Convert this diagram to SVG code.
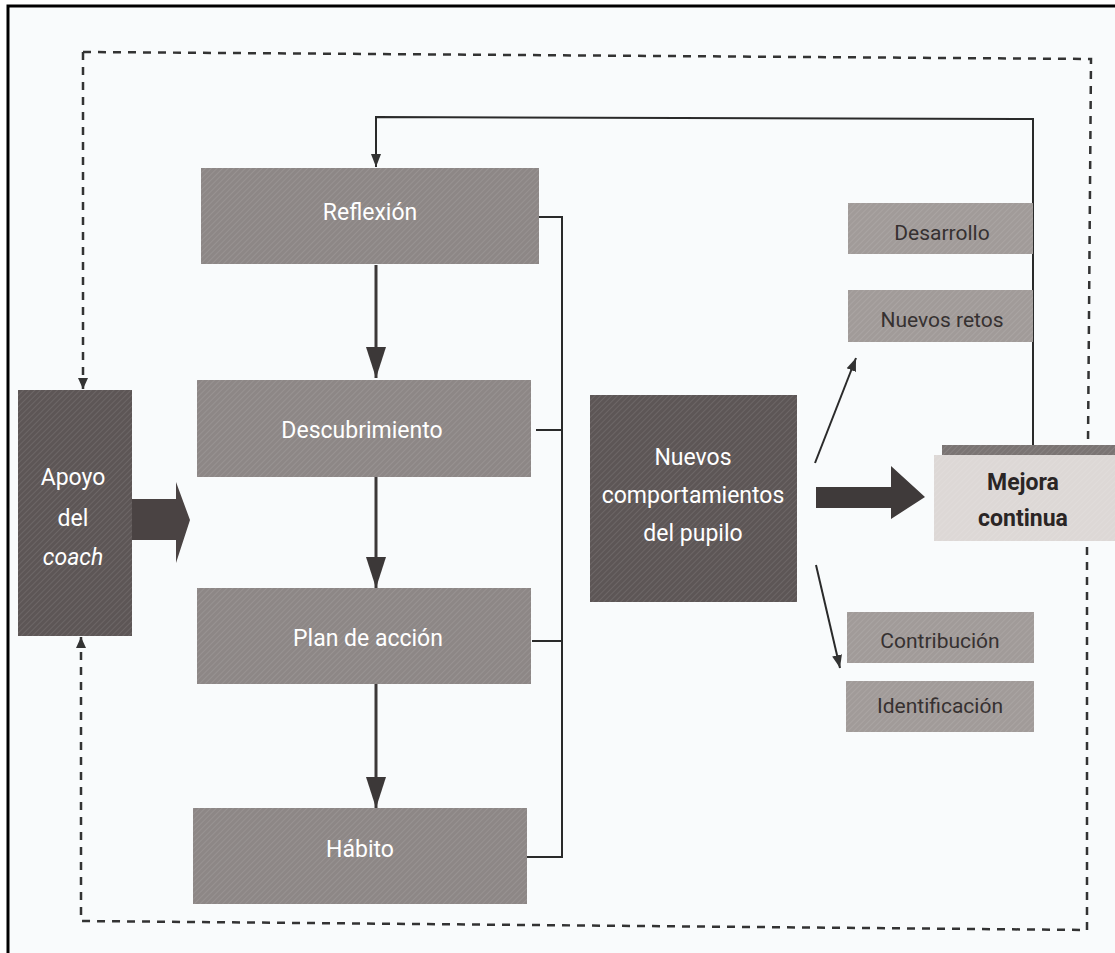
<svg xmlns="http://www.w3.org/2000/svg" width="1115" height="953" viewBox="0 0 1115 953">
<defs>
<pattern id="hatch" width="4" height="4" patternUnits="userSpaceOnUse" patternTransform="rotate(45)">
<rect width="4" height="4" fill="none"/>
<line x1="0" y1="0" x2="0" y2="4" stroke="#ffffff" stroke-opacity="0.12" stroke-width="1.5"/>
</pattern>
<marker id="thin" markerUnits="userSpaceOnUse" markerWidth="14" markerHeight="12" refX="13" refY="6" orient="auto">
<path d="M0,1 L13,6 L0,11 Z" fill="#333"/>
</marker>
<marker id="dash" markerUnits="userSpaceOnUse" markerWidth="12" markerHeight="12" refX="11" refY="6" orient="auto">
<path d="M0,1 L11,6 L0,11 Z" fill="#333"/>
</marker>
<marker id="big" markerUnits="userSpaceOnUse" markerWidth="32" markerHeight="22" refX="31" refY="11" orient="auto">
<path d="M0,1 L31,11 L0,21 Z" fill="#3c3838"/>
</marker>
</defs>
<style>
.mid{fill:#8d8786}
.dark{fill:#5d5656}
.small{fill:#a19b99}
.light{fill:#ddd8d6}
.tx{font-family:Roboto,"Liberation Sans",sans-serif;font-size:23px;fill:#ffffff;text-anchor:middle}
.txd{font-family:Roboto,"Liberation Sans",sans-serif;font-size:21px;fill:#363131;text-anchor:middle}
.txm{font-family:Roboto,"Liberation Sans",sans-serif;font-size:23px;font-weight:bold;fill:#2a2525;text-anchor:middle}
.ln{fill:none;stroke:#2a2a2a;stroke-width:2}
.dl{fill:none;stroke:#333;stroke-width:2.5;stroke-dasharray:8 7}
</style>
<rect width="1115" height="953" fill="#ffffff"/>
<rect x="10" y="8" width="1105" height="945" fill="#f9fbfc"/>
<path d="M8,953 L8,6 L1115,6" fill="none" stroke="#000" stroke-width="3"/>

<g id="connectors">
<path class="dl" d="M83,52 L1091,59 L1088,443"/>
<path class="dl" d="M83,52 L83,389" marker-end="url(#dash)"/>
<path class="dl" d="M1087,547 L1087,930 L81,921 L81,637" marker-end="url(#dash)"/>
<path class="ln" d="M1033,445 L1033,119 L376,117 L376,167" marker-end="url(#thin)"/>
<path class="ln" d="M538,217 L562,217 L562,857 L527,857 M536,430 L562,430 M532,641 L562,641"/>
<path d="M376,265 L376,378" stroke="#3c3838" stroke-width="3" marker-end="url(#big)"/>
<path d="M376,477 L376,588" stroke="#3c3838" stroke-width="3" marker-end="url(#big)"/>
<path d="M376,683 L376,808" stroke="#3c3838" stroke-width="3" marker-end="url(#big)"/>
<path class="ln" d="M815,463 L856,358" marker-end="url(#thin)"/>
<path class="ln" d="M816,565 L840,668" marker-end="url(#thin)"/>
<path d="M132,499 L176,499 L176,482 L190,520 L176,563 L176,540 L132,540 Z" fill="#4a4343"/>
<path d="M816,487 L891,487 L891,466 L925,497 L891,519 L891,508 L816,508 Z" fill="#3f3a3a"/>
</g>

<g id="apoyo">
<rect class="dark" x="18" y="390" width="114" height="246"/>
<rect fill="url(#hatch)" x="18" y="390" width="114" height="246"/>
<text class="tx" x="73" y="485" font-size="25">Apoyo</text>
<text class="tx" x="73" y="526" font-size="25">del</text>
<text class="tx" x="73" y="565" font-size="25" font-style="italic">coach</text>
</g>

<g id="reflexion">
<rect class="mid" x="201" y="168" width="338" height="96"/>
<rect fill="url(#hatch)" x="201" y="168" width="338" height="96"/>
<text class="tx" x="370" y="220">Reflexión</text>
</g>
<g id="descubrimiento">
<rect class="mid" x="197" y="380" width="334" height="97"/>
<rect fill="url(#hatch)" x="197" y="380" width="334" height="97"/>
<text class="tx" x="362" y="438">Descubrimiento</text>
</g>
<g id="plan">
<rect class="mid" x="197" y="588" width="334" height="96"/>
<rect fill="url(#hatch)" x="197" y="588" width="334" height="96"/>
<text class="tx" x="368" y="646">Plan de acción</text>
</g>
<g id="habito">
<rect class="mid" x="193" y="808" width="334" height="96"/>
<rect fill="url(#hatch)" x="193" y="808" width="334" height="96"/>
<text class="tx" x="360" y="857">Hábito</text>
</g>

<g id="nuevos">
<rect class="dark" x="590" y="395" width="207" height="207"/>
<rect fill="url(#hatch)" x="590" y="395" width="207" height="207"/>
<text class="tx" x="693" y="465" font-size="24">Nuevos</text>
<text class="tx" x="693" y="503" font-size="24">comportamientos</text>
<text class="tx" x="693" y="541" font-size="24">del pupilo</text>
</g>

<g id="desarrollo">
<rect class="small" x="848" y="203" width="185" height="51"/>
<rect fill="url(#hatch)" x="848" y="203" width="185" height="51"/>
<text class="txd" x="942" y="240">Desarrollo</text>
</g>
<g id="retos">
<rect class="small" x="848" y="290" width="185" height="52"/>
<rect fill="url(#hatch)" x="848" y="290" width="185" height="52"/>
<text class="txd" x="942" y="327">Nuevos retos</text>
</g>
<g id="contribucion">
<rect class="small" x="847" y="612" width="187" height="51"/>
<rect fill="url(#hatch)" x="847" y="612" width="187" height="51"/>
<text class="txd" x="940" y="648">Contribución</text>
</g>
<g id="identificacion">
<rect class="small" x="846" y="681" width="188" height="51"/>
<rect fill="url(#hatch)" x="846" y="681" width="188" height="51"/>
<text class="txd" x="940" y="713">Identificación</text>
</g>

<g id="mejora">
<rect fill="#7a7473" x="942" y="445" width="173" height="11"/>
<rect class="light" x="934" y="455" width="181" height="86"/>
<rect fill="url(#hatch)" x="934" y="445" width="181" height="96"/>
<text class="txm" x="1023" y="490">Mejora</text>
<text class="txm" x="1023" y="526">continua</text>
</g>
</svg>
